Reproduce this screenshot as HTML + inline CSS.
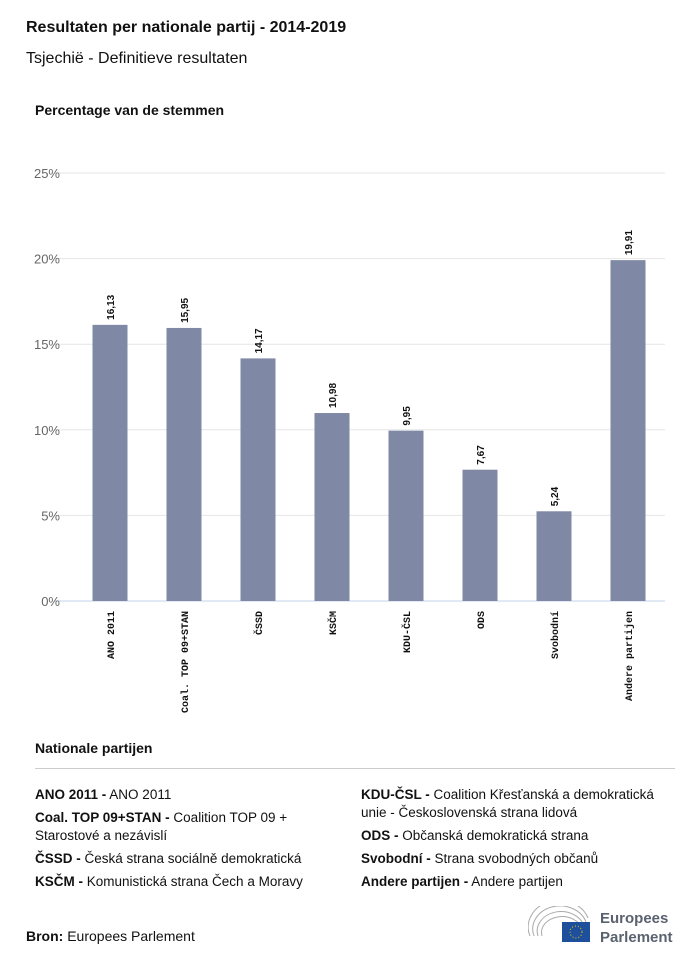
<!DOCTYPE html>
<html><head><meta charset="utf-8"><style>
body{margin:0;background:#fff;font-family:"Liberation Sans",sans-serif;color:#111}
.wrap{position:relative;width:700px;height:962px;overflow:hidden}
.t{position:absolute;white-space:nowrap}
.leg{font-size:13.5px;line-height:18px}
.leg b{font-weight:bold}
</style></head><body>
<div class="wrap">
<div class="t" style="left:26px;top:19px;font-size:16px;font-weight:bold">Resultaten per nationale partij - 2014-2019</div>
<div class="t" style="left:26px;top:50px;font-size:16px">Tsjechië - Definitieve resultaten</div>
<div class="t" style="left:35px;top:102px;font-size:14px;font-weight:bold">Percentage van de stemmen</div>
<svg id="chart" width="700" height="720" style="position:absolute;left:0;top:0"></svg>
<div class="t" style="left:35px;top:740px;font-size:14px;font-weight:bold">Nationale partijen</div>
<div style="position:absolute;left:35px;top:768px;width:640px;height:1px;background:#ccc"></div>
<div class="t leg" style="left:35px;top:786px"><b>ANO 2011 -</b> ANO 2011</div>
<div class="t leg" style="left:35px;top:809px"><b>Coal. TOP 09+STAN -</b> Coalition TOP 09 +<br>Starostové a nezávislí</div>
<div class="t leg" style="left:35px;top:850px"><b>ČSSD -</b> Česká strana sociálně demokratická</div>
<div class="t leg" style="left:35px;top:873px"><b>KSČM -</b> Komunistická strana Čech a Moravy</div>
<div class="t leg" style="left:361px;top:786px"><b>KDU-ČSL -</b> Coalition Křesťanská a demokratická<br>unie - Československá strana lidová</div>
<div class="t leg" style="left:361px;top:827px"><b>ODS -</b> Občanská demokratická strana</div>
<div class="t leg" style="left:361px;top:850px"><b>Svobodní -</b> Strana svobodných občanů</div>
<div class="t leg" style="left:361px;top:873px"><b>Andere partijen -</b> Andere partijen</div>
<div class="t" style="left:26px;top:928px;font-size:14px"><b>Bron:</b> Europees Parlement</div>
<div style="position:absolute;left:528px;top:906px;width:62px;height:36px">
<svg width="62" height="36"><g fill="none" stroke="#aaa" stroke-width="1"><path d="M2 30 A30 26 0 0 1 60 12"/><path d="M6 30 A26 22 0 0 1 58 16"/><path d="M10 30 A22 18 0 0 1 56 20"/><path d="M14 30 A18 14 0 0 1 54 23"/></g><rect x="34" y="16" width="28" height="20" fill="#1d4f9c"/><circle cx="48" cy="26" r="6" fill="none" stroke="#f5d000" stroke-dasharray="1 2"/></svg></div>
<div class="t" style="left:600px;top:909px;font-size:15px;font-weight:bold;color:#5a6270;line-height:19px">Europees<br>Parlement</div>
</div>
<script>
const categories=["ANO 2011","Coal. TOP 09+STAN","ČSSD","KSČM","KDU-ČSL","ODS","Svobodní","Andere partijen"];
const values=[16.13,15.95,14.17,10.98,9.95,7.67,5.24,19.91];
const valueLabels=["16,13","15,95","14,17","10,98","9,95","7,67","5,24","19,91"];
const yTicks=[0,5,10,15,20,25];
const NS="http://www.w3.org/2000/svg";
const svg=document.getElementById("chart");
const y0=601,y25=173,x0=73,band=74,bw=35;
const y=v=>y0-(v/25)*(y0-y25);
const x=i=>x0+band*i+band/2;
function mk(t,a){const e=document.createElementNS(NS,t);for(const k in a)e.setAttribute(k,a[k]);svg.appendChild(e);return e;}
yTicks.forEach(t=>{
  const g=mk("line",{x1:55,x2:665,y1:y(t),y2:y(t),stroke:t===0?"#c7d3e8":"#e6e6e6","stroke-width":1});
  
  
  const l=mk("text",{x:60,y:y(t)+5,"text-anchor":"end","font-size":13,fill:"#666","font-family":"Liberation Sans,sans-serif"});
  l.textContent=t+"%";
  
  
});
values.forEach((v,i)=>{
  const r=mk("rect",{x:x(i)-bw/2,y:y(v),width:bw,height:y0-y(v),fill:"#7f88a5"});
  
  
  const vl=mk("text",{transform:`translate(${x(i)+4},${y(v)-5}) rotate(-90)`,"font-size":10,"font-weight":"bold",fill:"#111","font-family":"Liberation Sans,sans-serif"});
  vl.textContent=valueLabels[i];
  
  
  const cl=mk("text",{transform:`translate(${x(i)+4},${y0+10}) rotate(-90)`,"text-anchor":"end","font-size":10,"font-weight":"bold",fill:"#111","font-family":"Liberation Mono,monospace"});
  cl.textContent=categories[i];
  
  
});
</script>
</body></html>
